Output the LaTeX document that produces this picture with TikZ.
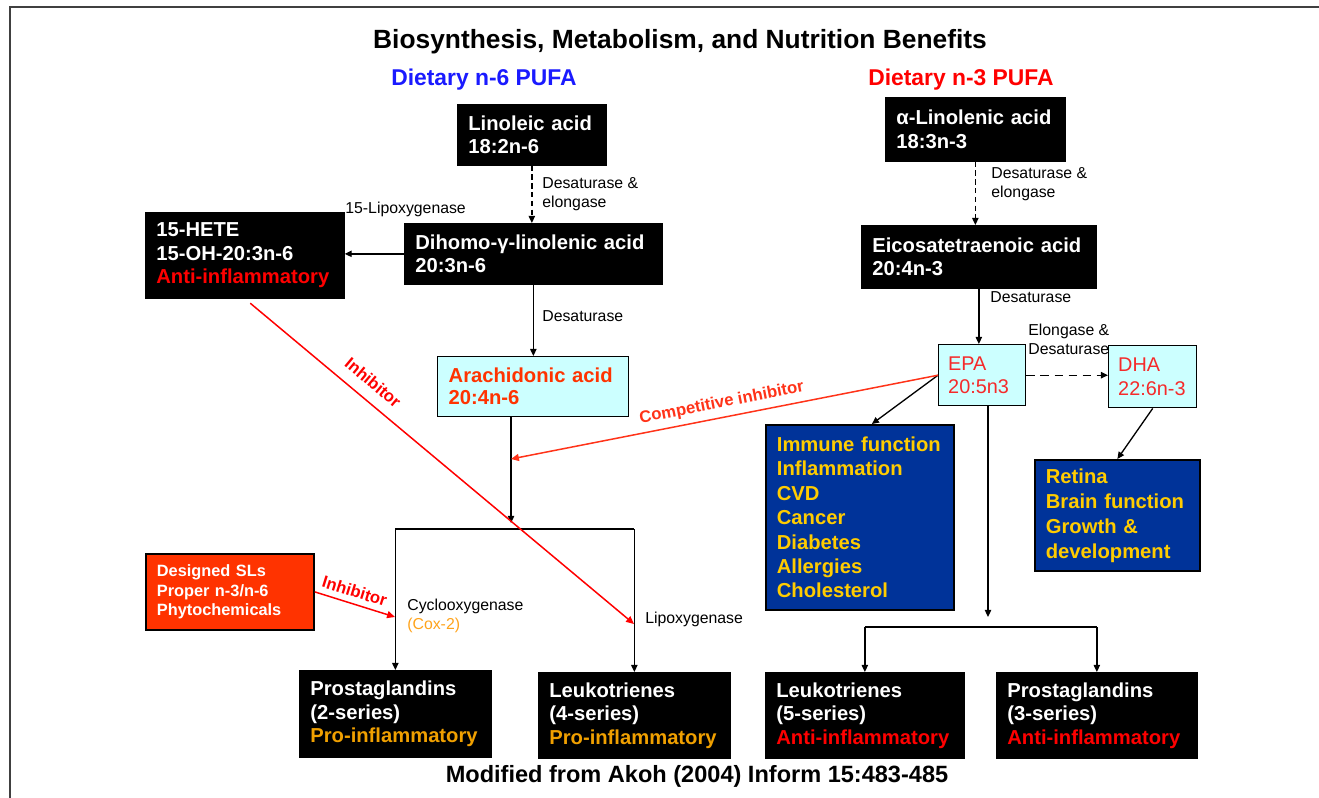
\documentclass[tikz,border=0pt]{standalone}
\usepackage{fontspec}
\setmainfont{Liberation Sans}
\usepackage{tikz}
\usetikzlibrary{arrows.meta}
\definecolor{Navy}{HTML}{003399}
\definecolor{Gold}{HTML}{FFCC00}
\definecolor{PaleCyan}{HTML}{CCFFFF}
\definecolor{Vermilion}{HTML}{FF3300}
\definecolor{EpaRed}{HTML}{F52A2A}
\definecolor{AntiRed}{HTML}{FF0000}
\definecolor{Amber}{HTML}{F0A000}
\definecolor{CoxOrange}{HTML}{FFA31A}
\definecolor{InhRed}{HTML}{FF0000}
\definecolor{CompRed}{HTML}{FF3319}
\definecolor{DietBlue}{HTML}{1A1AFF}
\definecolor{FrameGray}{HTML}{404040}
\newcommand{\boxfont}{\fontsize{11.5}{13.4}\selectfont\bfseries}
\newcommand{\enzfont}{\fontsize{9}{10.8}\selectfont}
\newcommand{\inhfont}{\fontsize{9.5}{11}\selectfont\bfseries}
\exhyphenpenalty=10000
\hyphenpenalty=10000

\begin{document}
\begin{tikzpicture}[x=0.2mm,y=-0.2mm,
  fabox/.style={anchor=north west,align=left,inner xsep=0.22cm,inner ysep=2pt,font=\boxfont},
  blackbox/.style={fabox,draw=black,fill=black,text=white},
  cyanbox/.style={fabox,draw=black,line width=0.8pt,fill=PaleCyan,text=Vermilion},
  navybox/.style={fabox,draw=black,line width=1pt,fill=Navy,text=Gold},
  slsbox/.style={fabox,draw=black,line width=1pt,fill=Vermilion,text=white,font=\fontsize{9.3}{11.3}\selectfont\bfseries},
  enz/.style={anchor=west,align=left,inner sep=0pt,font=\enzfont},
  conn/.style={draw=black,line width=0.75pt},
  arr/.style={conn,-{Triangle[length=4pt,width=3.6pt]}},
  dasharr/.style={arr,dash pattern=on 3pt off 2pt},
  inh/.style={draw=InhRed,line width=0.85pt,-{Triangle[length=4.5pt,width=4pt]}},
  inhlabel/.style={font=\inhfont,text=InhRed,sloped,above}
]
\useasboundingbox (0,0) rectangle (1319,798);
\draw[draw=FrameGray,line width=0.7pt] (10,798) -- (10,7) -- (1319,7);

% headings
\node[font=\fontsize{15}{18}\selectfont\bfseries] (title) at (680,42) {Biosynthesis, Metabolism, and Nutrition Benefits};
\node[font=\fontsize{13}{15}\selectfont\bfseries,text=DietBlue] (n6) at (484,80) {Dietary n-6 PUFA};
\node[font=\fontsize{13}{15}\selectfont\bfseries,text=AntiRed] (n3) at (961,80) {Dietary n-3 PUFA};

% n-6 side
\node[blackbox,text width=2.54cm,minimum height=1.22cm] (lin) at (457,104) {Linoleic acid\\18:2n-6};
\node[blackbox,text width=4.72cm,minimum height=1.22cm] (dgla) at (404,223) {Dihomo-γ-linolenic acid\\20:3n-6};
\node[blackbox,text width=3.54cm,minimum height=1.72cm] (hete) at (145,212) {15-HETE\\15-OH-20:3n-6\\\textcolor{AntiRed}{Anti-inflammatory}};
\node[cyanbox,text width=3.38cm,minimum height=1.2cm,font=\fontsize{11.5}{12.5}\selectfont\bfseries] (ara) at (437,356) {Arachidonic acid\\20:4n-6};
\node[slsbox,text width=2.92cm,minimum height=1.52cm] (sls) at (145,553) {Designed SLs\\Proper n-3/n-6\\Phytochemicals};
\node[blackbox,text width=3.4cm,minimum height=1.74cm] (pg2) at (299,670) {Prostaglandins\\(2-series)\\\textcolor{Amber}{Pro-inflammatory}};
\node[blackbox,text width=3.4cm,minimum height=1.72cm] (lt4) at (538,672) {Leukotrienes\\(4-series)\\\textcolor{Amber}{Pro-inflammatory}};

% n-3 side
\node[blackbox,text width=3.16cm,minimum height=1.28cm] (ala) at (885,97) {α-Linolenic acid\\18:3n-3};
\node[blackbox,text width=4.26cm,minimum height=1.26cm] (eta) at (861,225) {Eicosatetraenoic acid\\20:4n-3};
\node[cyanbox,inner xsep=0.19cm,text width=1.36cm,minimum height=1.22cm,font=\fontsize{11.3}{13.4}\selectfont,text=EpaRed] (epa) at (938,344) {EPA\\20:5n3};
\node[cyanbox,inner xsep=0.19cm,text width=1.38cm,minimum height=1.24cm,font=\fontsize{11.3}{13.4}\selectfont,text=EpaRed] (dha) at (1108,345) {DHA\\22:6n-3};
\node[navybox,text width=3.32cm,minimum height=3.7cm,font=\fontsize{11.5}{13.9}\selectfont\bfseries] (immune) at (765,424) {Immune function\\Inflammation\\CVD\\Cancer\\Diabetes\\Allergies\\Cholesterol};
\node[navybox,text width=2.86cm,minimum height=2.22cm,font=\fontsize{11.5}{14.2}\selectfont\bfseries] (retina) at (1034,459) {Retina\\Brain function\\Growth \&\\development};
\node[blackbox,text width=3.54cm,minimum height=1.72cm] (lt5) at (765,672) {Leukotrienes\\(5-series)\\\textcolor{AntiRed}{Anti-inflammatory}};
\node[blackbox,text width=3.58cm,minimum height=1.72cm] (pg3) at (996,672) {Prostaglandins\\(3-series)\\\textcolor{AntiRed}{Anti-inflammatory}};

% enzyme labels
\node[enz] (d1) at (542,194) {Desaturase \&\\elongase};
\node[enz] (lox15) at (345,209) {15-Lipoxygenase};
\node[enz] (d2) at (542,316) {Desaturase};
\node[enz] (d3) at (991,184) {Desaturase \&\\elongase};
\node[enz] (d4) at (990,297) {Desaturase};
\node[enz] (d5) at (1028,339) {Elongase \&\\Desaturase};
\node[enz] (cox) at (407,616) {Cyclooxygenase\\\textcolor{CoxOrange}{(Cox-2)}};
\node[enz] (lox) at (645,619) {Lipoxygenase};

\node[font=\fontsize{13.4}{16}\selectfont\bfseries] (src) at (697,776) {Modified from Akoh (2004) Inform 15:483-485};

% junctions
\coordinate (j6) at (511,529);
\coordinate (j3) at (988,627);
\coordinate (ci) at (511,459);
\coordinate (i1) at (634,624);
\coordinate (i2) at (395,617);

% pathway arrows
\draw[dasharr] (lin.south) -- (lin.south |- dgla.north);
\draw[arr] (dgla.west) -- (dgla.west -| hete.east);
\draw[arr] (dgla.south) -- (dgla.south |- ara.north);
\draw[dasharr] (ala.south) -- (ala.south |- eta.north);
\draw[arr] (eta.south) -- (eta.south |- epa.north);
\draw[arr,dash pattern=on 5pt off 3pt] (epa.east) -- (epa.east -| dha.west);
\draw[arr] (epa.west) -- ([xshift=0.24cm]immune.north);
\draw[arr] (dha.south) -- (retina.north);

\draw[arr] (ara.south -| j6) -- ([yshift=0.12cm]j6);
\draw[conn] (pg2.north |- j6) -- (lt4.north |- j6);
\draw[arr] (pg2.north |- j6) -- (pg2.north);
\draw[arr] (lt4.north |- j6) -- (lt4.north);

\draw[arr] (epa.south -| j3) -- ([yshift=0.2cm]j3);
\draw[conn] (lt5.north |- j3) -- (pg3.north |- j3);
\draw[arr] (lt5.north |- j3) -- (lt5.north);
\draw[arr] (pg3.north |- j3) -- (pg3.north);

% inhibitors
\draw[inh,draw=CompRed] (epa.west) -- node[inhlabel,text=CompRed,pos=0.5] (cilbl) {Competitive inhibitor} (ci);
\draw[inh,shorten <=4pt] (hete.south) -- node[inhlabel,above=3pt,pos=0.3] (i1lbl) {Inhibitor} (i1);
\draw[inh] (sls.east) -- node[inhlabel,pos=0.45] (i2lbl) {Inhibitor} (i2);
\end{tikzpicture}
\end{document}
